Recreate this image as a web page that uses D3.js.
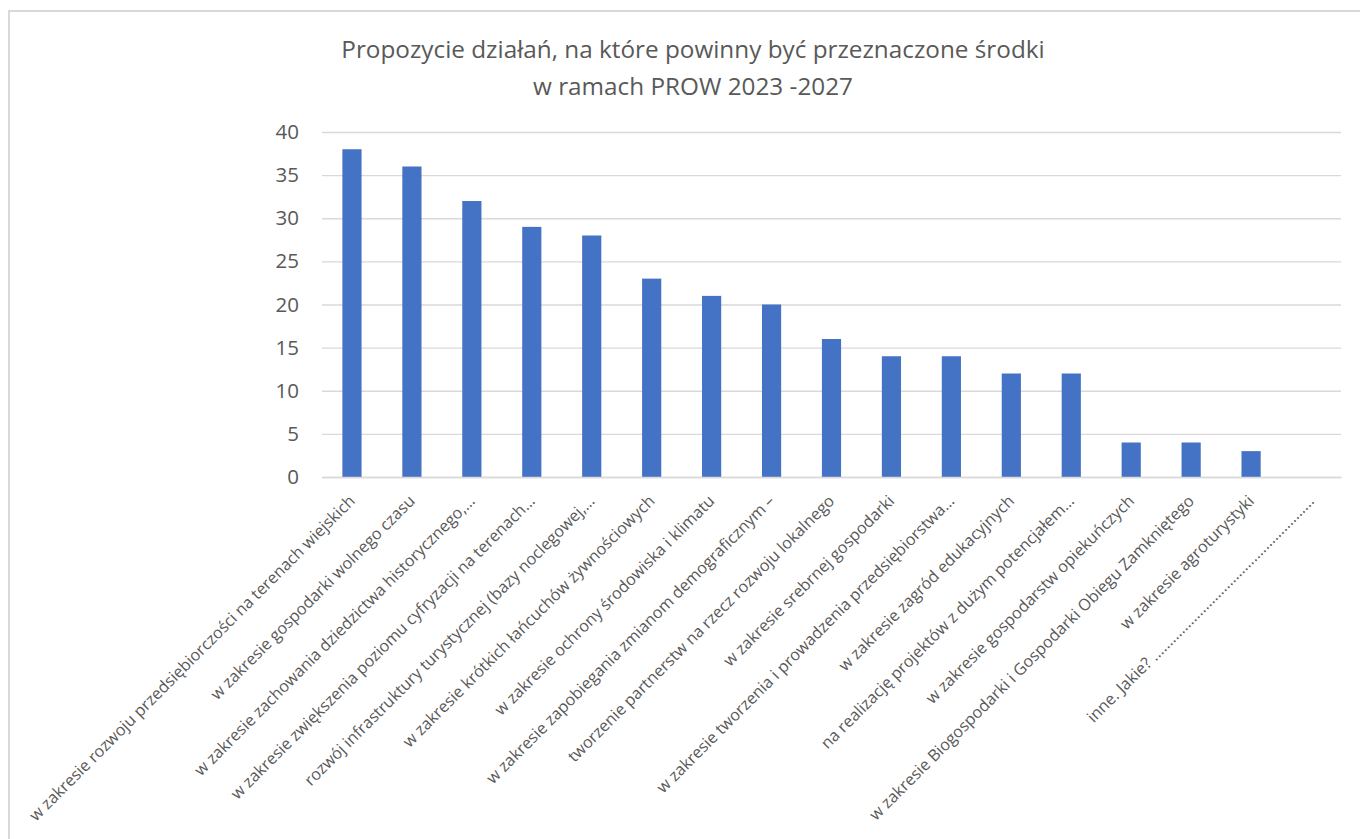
<!DOCTYPE html>
<html>
<head>
<meta charset="utf-8">
<script src="https://cdn.jsdelivr.net/npm/d3@7"></script>
<style>
  body { margin: 0; background: #fff; }
  svg text { font-family: "Open Sans", "Noto Sans", sans-serif; fill: #595959; }
</style>
</head>
<body>
<div id="chart"></div>
<script>
// Bar chart: proposed actions for PROW 2023-2027 funding
const categories = [
  "w zakresie rozwoju przedsiębiorczości na terenach wiejskich",
  "w zakresie gospodarki wolnego czasu",
  "w zakresie zachowania dziedzictwa historycznego,…",
  "w zakresie zwiększenia poziomu cyfryzacji na terenach…",
  "rozwój infrastruktury turystycznej (bazy noclegowej,…",
  "w zakresie krótkich łańcuchów żywnościowych",
  "w zakresie ochrony środowiska i klimatu",
  "w zakresie zapobiegania zmianom demograficznym –",
  "tworzenie partnerstw na rzecz rozwoju lokalnego",
  "w zakresie srebrnej gospodarki",
  "w zakresie tworzenia i prowadzenia przedsiębiorstwa…",
  "w zakresie zagród edukacyjnych",
  "na realizację projektów z dużym potencjałem…",
  "w zakresie gospodarstw opiekuńczych",
  "w zakresie Biogospodarki i Gospodarki Obiegu Zamkniętego",
  "w zakresie agroturystyki",
  "inne. Jakie? ....................................................."
];
const values = [38, 36, 32, 29, 28, 23, 21, 20, 16, 14, 14, 12, 12, 4, 4, 3, 0];
const yTicks = [0, 5, 10, 15, 20, 25, 30, 35, 40];
const titleLines = [
  "Propozycie działań, na które powinny być przeznaczone środki",
  "w ramach PROW 2023 -2027"
];

const W = 1360, H = 839;
const plot = { left: 322, right: 1341, top: 132, bottom: 477 };

const svg = d3.select("#chart").append("svg").attr("width", W).attr("height", H);

// chart area frame (runs off the right and bottom edges)
svg.append("rect").attr("x", 9).attr("y", 11).attr("width", 1400).attr("height", 900)
  .attr("fill", "#fff").attr("stroke", "#d9d9d9").attr("stroke-width", 2);

const x = d3.scaleBand().domain(categories).range([plot.left, plot.right])
  .paddingInner(0.68).paddingOuter(0.34);
const y = d3.scaleLinear().domain([0, 40]).range([plot.bottom, plot.top]);

// gridlines + tick labels
const yAxis = d3.axisLeft(y).tickValues(yTicks).tickSize(-(plot.right - plot.left)).tickPadding(23);
const gy = svg.append("g").attr("transform", `translate(${plot.left},0)`).call(yAxis);
gy.select(".domain").remove();
gy.selectAll(".tick line").attr("stroke", "#d9d9d9").attr("stroke-width", 1.3);
gy.selectAll(".tick text").attr("font-size", 20.5).attr("fill", "#595959");

// bars
svg.append("g").selectAll("rect").data(values).join("rect")
  .attr("x", (d, i) => x(categories[i]))
  .attr("y", d => y(d))
  .attr("width", x.bandwidth())
  .attr("height", d => y(0) - y(d))
  .attr("fill", "#4472c4");

// category axis
const xAxis = d3.axisBottom(x).tickSize(0).tickFormat(d => d);
const gx = svg.append("g").attr("transform", `translate(0,${plot.bottom})`).call(xAxis);
gx.select(".domain").attr("stroke", "#d9d9d9").attr("stroke-width", 1.3);
gx.selectAll(".tick text")
  .attr("font-size", 16.2)
  .attr("text-anchor", "end")
  .attr("dy", 0).attr("y", 0)
  .attr("transform", "translate(4,25) rotate(-45)");

// title
svg.append("text").attr("x", 693).attr("y", 58).attr("text-anchor", "middle")
  .attr("font-size", 24.3)
  .selectAll("tspan").data(titleLines).join("tspan")
  .attr("x", 693).attr("dy", (d, i) => i ? 37 : 0).text(d => d);
</script>
</body>
</html>
